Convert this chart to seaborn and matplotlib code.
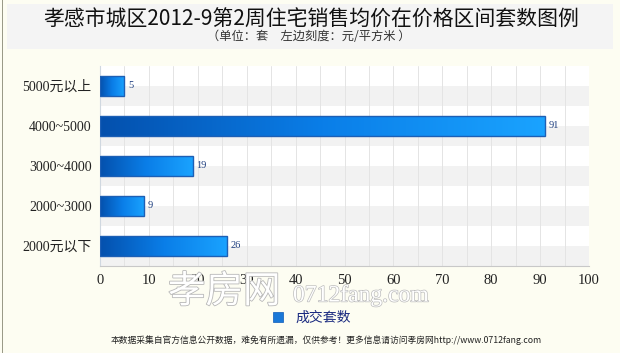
import numpy as np
import pandas as pd
import matplotlib
matplotlib.use("Agg")
import matplotlib.pyplot as plt
import matplotlib.patheffects as pe
import seaborn as sns
from matplotlib.colors import LinearSegmentedColormap
from matplotlib.patches import Rectangle

# --- data ---
categories = ['5000元以上', '4000~5000', '3000~4000', '2000~3000', '2000元以下']
counts = [5, 91, 19, 9, 26]
x_ticks = list(range(0, 101, 10))
series_name = '成交套数'

title = '孝感市城区2012-9第2周住宅销售均价在价格区间套数图例'
subtitle = '（单位：套　左边刻度：元/平方米 ）'
footer = '本数据采集自官方信息公开数据，难免有所遗漏，仅供参考！更多信息请访问孝房网http://www.0712fang.com'

sns.set_style('white')
plt.rcParams['font.family'] = ['Liberation Serif', 'Noto Sans CJK SC', 'DejaVu Sans']

W, H = 620, 353
fig = plt.figure(figsize=(W / 100, H / 100), dpi=100)
fig.patch.set_facecolor('#fdfdf2')

# title band + left border
fig.add_artist(Rectangle((7 / W, 1 - 49 / H), 606 / W, 45 / H, transform=fig.transFigure,
                         facecolor='#f4f4f4', edgecolor='none', zorder=0))
fig.add_artist(Rectangle((1.5 / W, 0), 1.5 / W, 1, transform=fig.transFigure,
                         facecolor='#9a9a88', edgecolor='none', zorder=0))

fig.text(311 / W, 1 - 20 / H, title, ha='center', va='center', fontsize=15, color='#111111',
         family=['Noto Sans CJK SC', 'DejaVu Sans'])
fig.text(309 / W, 1 - 36 / H, subtitle, ha='center', va='center', fontsize=8.8, color='#333333',
         family=['Noto Sans CJK SC', 'DejaVu Sans'])

# --- plot area ---
ax = fig.add_axes([100 / W, 1 - 266 / H, 489 / W, 200 / H])
ax.set_facecolor('white')
df = pd.DataFrame({'区间': categories, series_name: counts})
sns.barplot(data=df, x=series_name, y='区间', orient='h', width=0.48, color='#1a7fe0',
            edgecolor='#1d5fb5', linewidth=1.0, ax=ax, zorder=4)

# gradient fill inside each bar
cmap = LinearSegmentedColormap.from_list('bar', ['#0450ad', '#0a7ee8', '#1aa3ff'])
grad = np.linspace(0, 1, 256).reshape(1, -1)
for p in ax.patches:
    x0, y0 = p.get_x(), p.get_y()
    w, h = p.get_width(), p.get_height()
    im = ax.imshow(grad, extent=[x0, x0 + w, y0 + h, y0], cmap=cmap, aspect='auto', zorder=3)
    im.set_clip_path(p)
    p.set_facecolor('none')

n = len(categories)
for i in range(n):
    ax.axhspan(i, i + 0.5, color='#f2f2f2', zorder=0, lw=0)
for xv in range(5, 101, 5):
    ax.axvline(xv, color='#e4e4e4', lw=0.7, zorder=1)

for i, v in enumerate(counts):
    ax.text(v + 0.7, i, str(v), va='center', ha='left', fontsize=7.5, color='#1f3f80', zorder=5)

ax.set_xlim(0, 100)
ax.set_ylim(n - 0.5, -0.5)
ax.set_xticks(x_ticks)
ax.set_xticklabels([str(t) for t in x_ticks])
ax.set_xlabel('')
ax.set_ylabel('')
ax.tick_params(axis='x', labelsize=10.5, colors='#333333', length=0, pad=6)
ax.tick_params(axis='y', labelsize=10, colors='#333333', length=0, pad=6)
for lab in ax.get_xticklabels() + ax.get_yticklabels():
    lab.set_color('#222222')
for s in ['top', 'right']:
    ax.spines[s].set_visible(False)
ax.spines['left'].set_color('#d0d8e0')
ax.spines['bottom'].set_color('#c8c8c8')
ax.spines['left'].set_linewidth(0.8)
ax.spines['bottom'].set_linewidth(0.8)

# watermark (faint outline text, sits under the axis labels as in the source)
fig.text(168 / W, 1 - 292 / H, '孝房网', ha='left', va='center', fontsize=27, color='white',
         family=['Noto Sans CJK SC', 'DejaVu Sans'],
         path_effects=[pe.withStroke(linewidth=1.2, foreground='#b8b8b8')], zorder=2)
fig.text(293 / W, 1 - 296 / H, '0712fang.com', ha='left', va='center', fontsize=17, color='white',
         family=['Liberation Serif'],
         path_effects=[pe.withStroke(linewidth=1.0, foreground='#bcbcbc')], zorder=2)

# legend
fig.add_artist(Rectangle((273 / W, 1 - 322 / H), 10 / W, 10 / H, transform=fig.transFigure,
                         facecolor='#1a78d8', edgecolor='#0d5ab8', lw=0.5))
fig.text(295 / W, 1 - 318 / H, series_name, ha='left', va='center', fontsize=10, color='#1a2a80',
         family=['Noto Sans CJK SC', 'DejaVu Sans'])

fig.text(111 / W, 1 - 340 / H, footer, ha='left', va='center', fontsize=6.3, color='#222222',
         family=['Noto Sans CJK SC', 'DejaVu Sans'])

fig.savefig('out.png', dpi=100, facecolor=fig.get_facecolor())
